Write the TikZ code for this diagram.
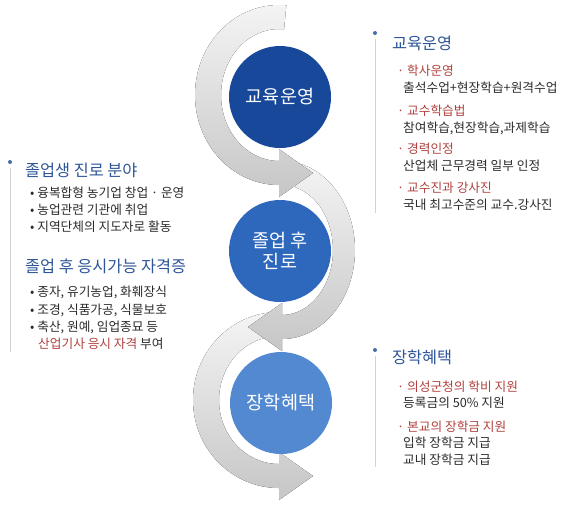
\documentclass[tikz,border=0pt]{standalone}
\usepackage{fontspec}
\setmainfont{Noto Sans CJK KR}
\usepackage{tikz}
\definecolor{navy}{HTML}{17489A}
\definecolor{midblue}{HTML}{2E68BD}
\definecolor{skyblue}{HTML}{5289D0}
\definecolor{hblue}{HTML}{2D5597}
\definecolor{kred}{HTML}{B0413E}
\definecolor{txt}{HTML}{2B2B2B}
\definecolor{dotblue}{HTML}{4A6DA7}

\begin{document}
\begin{tikzpicture}[x=1pt, y=-1pt,
    band/.style={top color=gray!8, bottom color=gray!45, draw=none},
    disc/.style={circle, minimum size=102pt, inner sep=0pt, text=white, align=center, font=\fontsize{18.5}{21}\selectfont},
    head/.style={anchor=west, inner sep=0pt, text=hblue, font=\fontsize{16.3}{19}\selectfont},
    item/.style={anchor=west, inner sep=0pt, text=txt, font=\fontsize{12.7}{15}\selectfont},
    key/.style={item, text=kred},
    dot/.style={circle, fill=dotblue, inner sep=0pt, minimum size=4pt},
    rail/.style={draw=gray!35, line width=0.8pt, shorten <=4pt}
]
\useasboundingbox (0,0) rectangle (569,515);

% curved arrows, lowest first
\fill[band] ([shift={(279,400)}]272:86 and 88) arc[start angle=272, end angle=90, x radius=86, y radius=88]
    -- (279,500) -- (313,476) -- (279,452)
    -- ([shift={(279,400)}]90:60 and 64) arc[start angle=90, end angle=272, x radius=60, y radius=64] -- cycle;
\fill[band] ([shift={(282,250)}]268:73 and 89) arc[start angle=268, end angle=450, x radius=73, y radius=89]
    -- (282,351) -- (248,327) -- (282,303)
    -- ([shift={(282,250)}]450:51 and 65) arc[start angle=450, end angle=268, x radius=51, y radius=65] -- cycle;
\fill[band] ([shift={(279,95)}]275:84 and 90) arc[start angle=275, end angle=90, x radius=84, y radius=90]
    -- (279,197) -- (313,173) -- (279,149)
    -- ([shift={(279,95)}]90:58 and 66) arc[start angle=90, end angle=275, x radius=58, y radius=66] -- cycle;

% circles
\node[disc, fill=navy] (c1) at (280,97) {교육운영};
\node[disc, fill=midblue] (c2) at (280,251) {졸업 후\\진로};
\node[disc, fill=skyblue] (c3) at (281,403) {장학혜택};

% left block
\node[dot] (dL) at (10,162) {};
\coordinate (eL) at (10,352);
\draw[rail] (dL) -- (eL);
\node[head] (hL1) at (25,170) {졸업생 진로 분야};
\node[item] (l1) at (30,193) {• 융복합형 농기업 창업 · 운영};
\node[item] (l2) at (30,210) {• 농업관련 기관에 취업};
\node[item] (l3) at (30,227) {• 지역단체의 지도자로 활동};
\node[head] (hL2) at (25,266) {졸업 후 응시가능 자격증};
\node[item] (l4) at (30,292) {• 종자, 유기농업, 화훼장식};
\node[item] (l5) at (30,310) {• 조경, 식품가공, 식물보호};
\node[item] (l6) at (30,327) {• 축산, 원예, 임업종묘 등};
\node[item] (l7) at (38,344) {\textcolor{kred}{산업기사 응시 자격} 부여};

% right top block
\node[dot] (dR1) at (375,33) {};
\coordinate (eR1) at (375,213);
\draw[rail] (dR1) -- (eR1);
\node[head] (hR1) at (392,43) {교육운영};
\node[key] (r1) at (397,71) {· 학사운영};
\node[item] (r2) at (403,88) {출석수업+현장학습+원격수업};
\node[key] (r3) at (397,111) {· 교수학습법};
\node[item] (r4) at (403,128) {참여학습,현장학습,과제학습};
\node[key] (r5) at (397,149) {· 경력인정};
\node[item] (r6) at (403,166) {산업체 근무경력 일부 인정};
\node[key] (r7) at (397,188) {· 교수진과 강사진};
\node[item] (r8) at (403,205) {국내 최고수준의 교수.강사진};

% right bottom block
\node[dot] (dR2) at (375,350) {};
\coordinate (eR2) at (375,467);
\draw[rail] (dR2) -- (eR2);
\node[head] (hR2) at (392,357) {장학혜택};
\node[key] (s1) at (397,387) {· 의성군청의 학비 지원};
\node[item] (s2) at (403,403) {등록금의 50\% 지원};
\node[key] (s3) at (397,427) {· 본교의 장학금 지원};
\node[item] (s4) at (403,443) {입학 장학금 지급};
\node[item] (s5) at (403,460) {교내 장학금 지급};
\end{tikzpicture}
\end{document}
